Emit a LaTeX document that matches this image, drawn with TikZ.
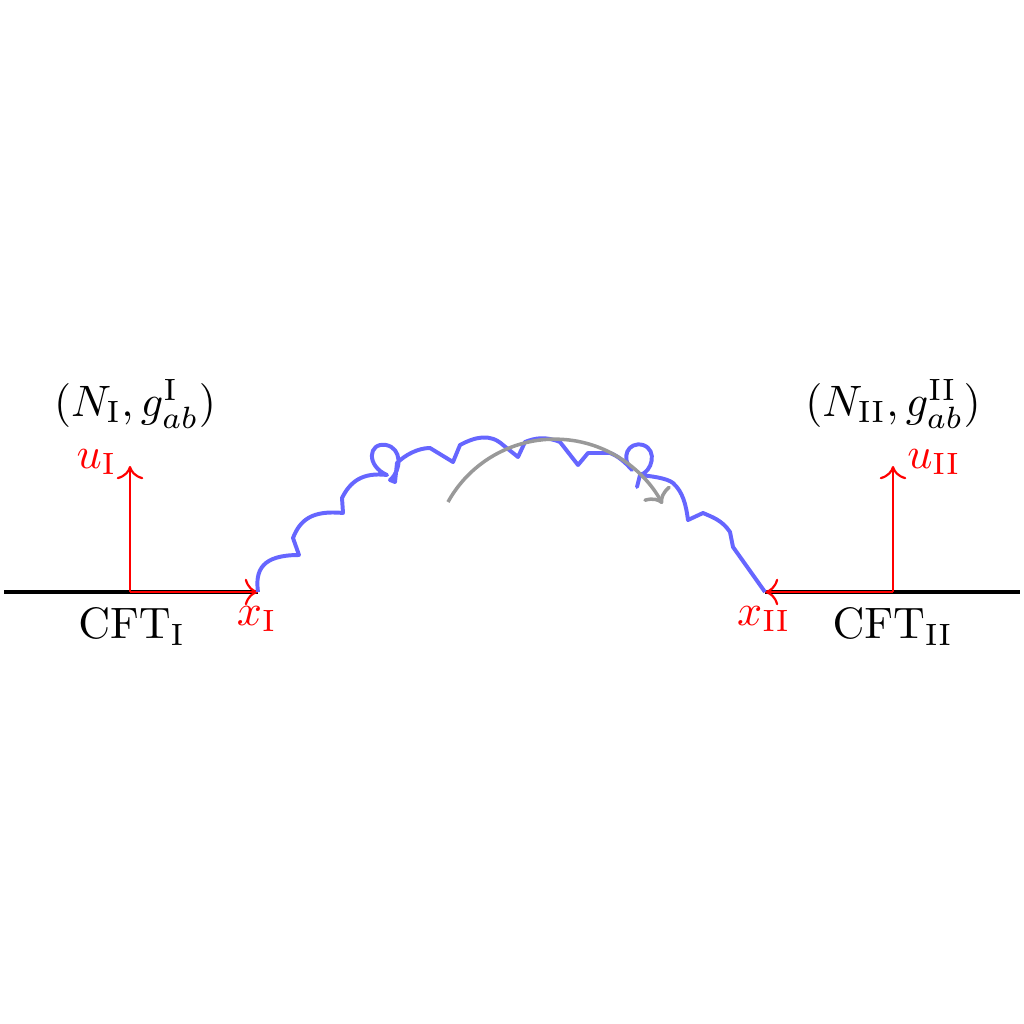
\documentclass[tikz,border=0pt]{standalone}
\usetikzlibrary{arrows.meta}
\begin{document}
\begin{tikzpicture}[x=0.2273pt,y=-0.2273pt,
  axis/.style={red,line width=0.5pt,-{To[length=3pt,width=6pt]}},
  base/.style={black,line width=0.75pt},
  wig/.style={blue!60,line width=0.9pt,line join=round},
  turn/.style={gray!80,line width=0.8pt,-{To[length=3pt,width=7pt]}},
  redlab/.style={red,inner sep=1pt}]
\useasboundingbox (0,0) rectangle (1024,1024);
% origins and ends
\coordinate (OL) at (130,592);
\coordinate (OR) at (893,592);
\coordinate (LL) at (4,592);
\coordinate (RR) at (1020,592);
\coordinate (XL) at (258,592);
\coordinate (XR) at (765,592);
\coordinate (UL) at (130,466);
\coordinate (UR) at (893,466);
% black baselines
\draw[base] (LL) -- (XL);
\draw[base] (XR) -- (RR);
% red axes
\draw[axis] (OL) -- (UL);
\draw[axis] (OL) -- (XL);
\draw[axis] (OR) -- (UR);
\draw[axis] (OR) -- (XR);
% labels
\node[redlab,anchor=east] (uI) at (122,462) {$u_{\mathrm{I}}$};
\node[redlab,anchor=west] (uII) at (902,462) {$u_{\mathrm{II}}$};
\node[redlab] (xI) at (257,619) {$x_{\mathrm{I}}$};
\node[redlab] (xII) at (764,619) {$x_{\mathrm{II}}$};
\node (cftI) at (132,627) {$\mathrm{CFT}_{\mathrm{I}}$};
\node (cftII) at (893,627) {$\mathrm{CFT}_{\mathrm{II}}$};
\node (NI) at (135,404) {$(N_{\mathrm{I}},g^{\mathrm{I}}_{ab})$};
\node (NII) at (893,404) {$(N_{\mathrm{II}},g^{\mathrm{II}}_{ab})$};
% wiggly path
\draw[wig] (XL) .. controls (255,570) and (262,555) .. (299,555)
  -- (293,538) .. controls (300,520) and (312,510) .. (343,513)
  -- (342,498) .. controls (350,482) and (362,472) .. (387,475)
  .. controls (366,466) and (368,442) .. (386,445)
  .. controls (402,448) and (402,470) .. (390,480)
  -- (395,482) -- (397,463) .. controls (405,455) and (418,448) .. (430,448)
  -- (453,462) -- (460,445) .. controls (475,437) and (490,433) .. (503,445)
  -- (518,457) -- (525,442) .. controls (535,438) and (545,436) .. (560,442)
  -- (578,465) -- (588,453) -- (610,453)
  .. controls (618,456) and (625,462) .. (632,470)
  .. controls (620,458) and (628,441) .. (643,445)
  .. controls (658,450) and (652,472) .. (640,475)
  -- (637,487) -- (640,475) .. controls (650,476) and (667,478) .. (673,483)
  .. controls (683,492) and (686,505) .. (688,520)
  -- (703,513) .. controls (712,517) and (722,520) .. (730,532)
  -- (733,547) -- (XR);
% gray turning arrow
\coordinate (GA) at (448,502);
\draw[turn] (GA) arc[start angle=209,end angle=332,radius=122];
\end{tikzpicture}
\end{document}
